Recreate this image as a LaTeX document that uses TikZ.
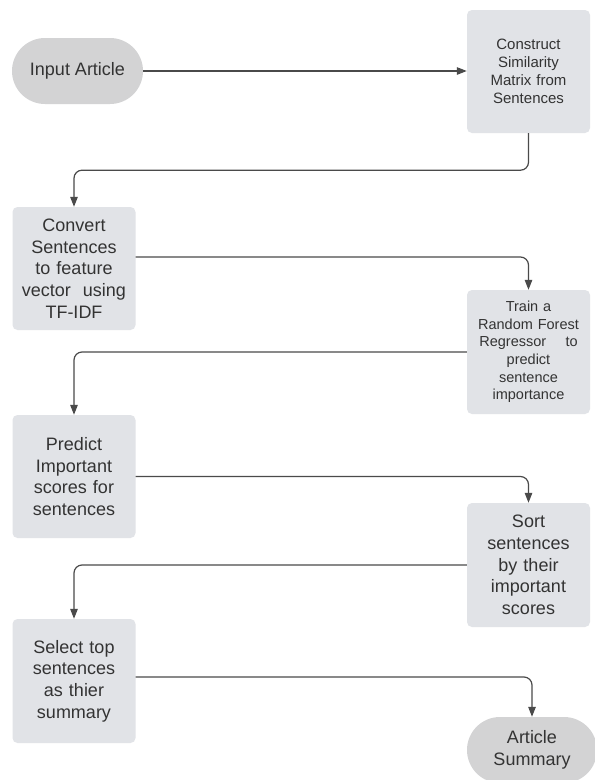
\documentclass[tikz,border=0pt]{standalone}
\usepackage{fontspec}
\setmainfont{Liberation Sans}
\usetikzlibrary{arrows.meta}
\definecolor{boxfill}{HTML}{E1E3E7}
\definecolor{pillfill}{HTML}{D3D3D4}
\definecolor{txt}{HTML}{333333}
\definecolor{lin}{HTML}{4A4A4A}
\begin{document}
\begin{tikzpicture}[x=1pt,y=-1pt,
  stepbox/.style={rectangle, rounded corners=5pt, fill=boxfill, minimum width=123pt, minimum height=123pt, align=center, text=txt, inner sep=2pt, text width=118pt},
  pill/.style={rectangle, rounded corners=33pt, fill=pillfill, minimum height=66pt, align=center, text=txt, inner sep=2pt},
  big/.style={font=\fontsize{18}{21.7}\selectfont},
  arr/.style={draw=lin, line width=1.2pt, rounded corners=8pt, -{Triangle[length=10pt,width=7.5pt]}}
]
\useasboundingbox (0,0) rectangle (595,780);
\clip (0,0) rectangle (595,780);
\fill[white] (0,0) rectangle (595,780);

\node[pill, minimum width=131pt, big] (inp) at (77.5,71) {Input Article};
\node[stepbox, font=\fontsize{15}{18}\selectfont] (con) at (528.5,71.5) {Construct\\Similarity\\Matrix from\\Sentences};
\node[stepbox, big] (cv) at (74,268.5) {Convert\\Sentences\\to feature\\vector\ \ using\\TF-IDF};
\node[stepbox, minimum height=124pt, font=\fontsize{14.5}{17.6}\selectfont] (tr) at (528.5,352) {Train a\\Random Forest\\Regressor\ \ \ \ to\\predict\\sentence\\importance};
\node[stepbox, big] (pr) at (74,476.5) {Predict\\Important\\scores for\\sentences};
\node[stepbox, minimum height=124pt, big] (so) at (528.5,565) {Sort\\sentences\\by their\\important\\scores};
\node[stepbox, minimum height=124pt, big] (sel) at (74,681) {Select top\\sentences\\as thier\\summary};
\node[pill, minimum width=130pt, big] (sum) at (532,750) {Article\\Summary};

\draw[arr] (inp.east) -- (inp.east -| con.west);
\draw[arr] (con.south) -- ++(0,37) -| (cv.north);
\draw[arr] ([yshift=11.5pt]cv.east) -| (tr.north);
\draw[arr] (tr.west) -| (pr.north);
\draw[arr] (pr.east) -| (so.north);
\draw[arr] (so.west) -| (sel.north);
\draw[arr] ([yshift=4pt]sel.east) -| (sum.north);
\end{tikzpicture}
\end{document}
